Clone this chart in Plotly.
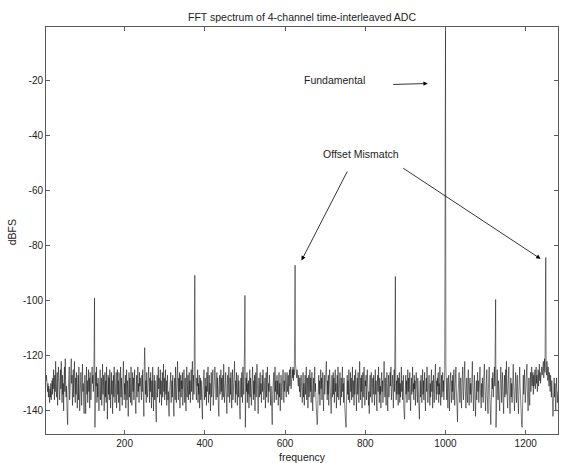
import numpy as np
import plotly.graph_objects as go

# Noise floor of the spectrum, one value per FFT bin (bin 1 .. 1280), in dBFS
noise_dbfs = [
    -124, -126, -125, -129, -127, -131, -128, -133, -130, -135, -131, -134, -137, -132, -135, -130, -136, -133, -129, -134,
    -128, -132, -125, -130, -136, -127, -133, -122, -129, -135, -131, -126, -138, -130, -124, -133, -128, -136, -131, -125,
    -132, -122, -129, -137, -127, -134, -130, -140, -128, -124, -133, -121, -129, -135, -131, -138, -142, -145, -134, -127,
    -131, -124, -136, -129, -133, -126, -121, -130, -127, -138, -132, -125, -135, -129, -122, -131, -137, -128, -134, -126,
    -130, -139, -133, -127, -136, -124, -131, -140, -129, -135, -126, -132, -138, -128, -123, -133, -130, -137, -141, -132,
    -127, -135, -141, -130, -124, -134, -129, -137, -131, -125, -133, -128, -139, -126, -131, -136, -129, -134, -124, -130,
    -127, -133, -129, -131, -130, -146, -134, -126, -131, -124, -137, -130, -135, -128, -133, -140, -127, -132, -125, -136,
    -131, -128, -138, -129, -123, -134, -131, -127, -140, -133, -126, -135, -129, -137, -124, -132, -143, -130, -127, -134,
    -128, -136, -125, -131, -139, -130, -126, -134, -129, -141, -132, -127, -135, -124, -130, -137, -128, -133, -126, -139,
    -131, -125, -134, -129, -137, -126, -132, -140, -130, -124, -135, -128, -133, -138, -127, -131, -122, -129, -136, -130,
    -134, -127, -139, -131, -125, -136, -129, -133, -142, -130, -126, -135, -128, -132, -137, -124, -131, -138, -129, -126,
    -133, -128, -136, -130, -125, -134, -139, -141, -132, -127, -135, -129, -124, -133, -130, -137, -126, -131, -128, -135,
    -129, -136, -127, -133, -125, -131, -138, -142, -130, -128, -123, -134, -129, -137, -126, -132, -135, -128, -131, -124,
    -130, -137, -128, -133, -126, -131, -139, -129, -135, -124, -132, -140, -130, -127, -136, -129, -134, -141, -144, -133,
    -127, -135, -130, -124, -132, -128, -137, -131, -125, -134, -129, -138, -132, -126, -135, -130, -123, -133, -128, -136,
    -130, -125, -134, -129, -138, -131, -127, -136, -133, -140, -142, -134, -128, -132, -126, -137, -131, -129, -135, -127,
    -133, -139, -142, -132, -128, -136, -124, -131, -137, -129, -134, -122, -130, -136, -128, -133, -126, -139, -131, -127,
    -135, -129, -132, -126, -138, -130, -134, -125, -131, -137, -128, -133, -140, -129, -124, -135, -131, -127, -136, -130,
    -126, -134, -129, -137, -131, -125, -133, -128, -122, -136, -130, -127, -134, -124, -130, -126, -133, -129, -136, -128,
    -131, -125, -137, -130, -134, -127, -139, -132, -128, -136, -129, -135, -141, -143, -133, -127, -131, -125, -136, -130,
    -128, -135, -131, -138, -126, -133, -129, -124, -137, -131, -127, -134, -130, -140, -132, -126, -135, -129, -133, -125,
    -138, -130, -134, -128, -124, -133, -129, -136, -131, -126, -135, -128, -132, -139, -142, -131, -127, -134, -130, -125,
    -133, -128, -136, -131, -127, -135, -123, -130, -137, -129, -134, -126, -132, -138, -141, -130, -127, -135, -129, -124,
    -132, -137, -128, -134, -126, -131, -139, -130, -125, -136, -129, -133, -127, -122, -131, -137, -129, -134, -126, -132,
    -138, -130, -127, -135, -129, -133, -140, -143, -132, -128, -135, -126, -131, -137, -124, -130, -134, -128, -125, -122,
    -146, -136, -128, -133, -126, -137, -130, -134, -129, -139, -131, -125, -135, -128, -132, -138, -127, -133, -124, -130,
    -136, -129, -134, -127, -140, -131, -126, -135, -130, -123, -133, -137, -141, -132, -128, -135, -129, -126, -134, -130,
    -137, -131, -127, -133, -125, -129, -136, -130, -134, -128, -139, -132, -126, -135, -129, -124, -131, -137, -130, -133,
    -127, -135, -130, -138, -131, -136, -141, -145, -134, -128, -132, -126, -137, -130, -124, -133, -129, -136, -131, -127,
    -134, -129, -138, -132, -126, -135, -130, -140, -133, -127, -131, -136, -128, -134, -125, -130, -137, -129, -133, -126,
    -132, -128, -135, -129, -126, -133, -130, -127, -134, -128, -125, -131, -129, -124, -132, -127, -130, -125, -128, -124,
    -129, -125, -127, -122, -124, -123, -126, -124, -128, -125, -129, -126, -131, -127, -130, -133, -128, -135, -131, -127,
    -134, -129, -137, -131, -126, -135, -130, -138, -132, -127, -134, -129, -124, -136, -131, -128, -139, -133, -127, -135,
    -130, -125, -133, -128, -137, -131, -126, -134, -140, -132, -128, -135, -129, -124, -133, -130, -136, -139, -142, -145,
    -144, -136, -130, -127, -134, -129, -138, -131, -125, -132, -128, -136, -130, -126, -135, -140, -131, -127, -134, -129,
    -133, -126, -122, -130, -136, -129, -134, -127, -138, -131, -125, -133, -129, -137, -141, -132, -127, -135, -130, -126,
    -134, -128, -137, -131, -125, -133, -130, -139, -132, -127, -135, -124, -130, -136, -129, -133, -126, -138, -131, -128,
    -135, -129, -124, -133, -130, -137, -128, -134, -139, -142, -144, -146, -138, -130, -127, -134, -129, -136, -125, -131,
    -137, -130, -126, -133, -128, -136, -131, -124, -135, -129, -132, -138, -127, -134, -130, -125, -133, -140, -131, -128,
    -134, -126, -130, -137, -129, -122, -131, -136, -128, -133, -127, -139, -132, -126, -135, -130, -124, -133, -138, -129,
    -131, -127, -136, -130, -125, -134, -129, -138, -133, -141, -131, -127, -135, -129, -126, -133, -137, -130, -128, -134,
    -127, -132, -138, -130, -125, -134, -129, -136, -140, -131, -127, -133, -124, -130, -137, -128, -134, -131, -139, -129,
    -126, -133, -129, -137, -131, -125, -122, -130, -135, -128, -134, -138, -130, -126, -133, -140, -131, -127, -135, -129,
    -133, -126, -131, -124, -136, -129, -134, -127, -132, -139, -130, -125, -133, -128, -123, -131, -136, -129, -134, -127,
    -132, -138, -128, -134, -126, -137, -130, -135, -129, -124, -133, -129, -136, -131, -127, -139, -142, -143, -136, -130,
    -127, -134, -129, -137, -131, -125, -133, -128, -136, -130, -126, -135, -140, -132, -128, -134, -129, -124, -133, -130,
    -136, -127, -132, -129, -138, -131, -126, -134, -130, -137, -128, -133, -139, -141, -143, -133, -129, -135, -127, -131,
    -137, -130, -125, -134, -129, -136, -131, -126, -135, -140, -132, -128, -133, -124, -131, -137, -129, -134, -127, -132,
    -138, -130, -135, -128, -125, -133, -129, -139, -131, -127, -134, -137, -130, -126, -123, -132, -136, -129, -134, -128,
    -131, -126, -137, -130, -134, -124, -132, -138, -129, -127, -135, -131, -126, -133, -129, -136, -128, -125, -122, -121,
    -124, -131, -136, -128, -134, -139, -130, -127, -135, -140, -131, -128, -126, -134, -137, -129, -133, -127, -136, -130,
    -125, -133, -138, -131, -127, -124, -132, -136, -141, -144, -135, -129, -133, -126, -131, -137, -130, -128, -135, -139,
    -131, -127, -124, -133, -136, -130, -126, -122, -131, -135, -139, -132, -128, -134, -137, -129, -125, -133, -138, -131,
    -128, -134, -130, -137, -129, -126, -122, -131, -135, -140, -132, -127, -133, -138, -142, -134, -129, -136, -130, -126,
    -133, -129, -137, -131, -127, -124, -132, -136, -139, -130, -135, -128, -133, -137, -129, -125, -123, -131, -136, -140,
    -133, -128, -125, -134, -137, -141, -132, -127, -124, -133, -138, -143, -145, -137, -130, -128, -132, -126, -135, -131,
    -128, -124, -131, -126, -124, -146, -138, -130, -125, -132, -136, -129, -134, -130, -140, -133, -127, -124, -131, -137,
    -130, -126, -133, -138, -141, -132, -127, -135, -130, -125, -134, -122, -129, -136, -139, -131, -127, -124, -133, -137,
    -141, -132, -128, -135, -130, -137, -133, -126, -123, -131, -136, -140, -134, -129, -126, -133, -137, -130, -127, -134,
    -138, -141, -133, -128, -124, -131, -136, -140, -143, -145, -146, -139, -131, -127, -134, -130, -125, -132, -137, -133,
    -129, -126, -123, -132, -136, -140, -133, -128, -135, -138, -130, -126, -133, -129, -124, -131, -128, -126, -134, -127,
    -131, -128, -125, -132, -129, -124, -130, -127, -133, -128, -125, -131, -127, -123, -129, -126, -130, -125, -128, -124,
    -127, -123, -126, -122, -128, -124, -121, -126, -123, -121, -124, -127, -122, -126, -129, -124, -128, -131, -126, -130,
    -133, -127, -131, -135, -129, -134, -138, -142, -137, -131, -128, -135, -130, -136, -140, -132, -128, -134, -137, -133,
]

# Discrete tones: fundamental and interleaving spurs (bin, peak level, level of the bin just below)
tone_bin = [125, 250, 375, 500, 625, 875, 1000, 1125, 1250]
tone_dbfs = [-99.0, -117.0, -90.7, -98.0, -87.0, -91.1, -0.4, -99.5, -84.2]
tone_skirt_dbfs = [-116.5, -124.0, -112.3, -116.3, -110.0, -112.3, -66.5, -117.0, -108.3]

x_ticks = [200, 400, 600, 800, 1000, 1200]
y_ticks = [-140, -120, -100, -80, -60, -40, -20]

freq = np.arange(1, len(noise_dbfs) + 1)
spectrum = np.array(noise_dbfs, dtype=float)
for b, peak, skirt in zip(tone_bin, tone_dbfs, tone_skirt_dbfs):
    spectrum[b - 1] = peak
    spectrum[b - 2] = skirt

FONT = "Liberation Sans, Arial, Helvetica, sans-serif"
INK = "#222222"
FRAME = "#5a5a5a"

fig = go.Figure(
    go.Scatter(
        x=freq,
        y=spectrum,
        mode="lines",
        line=dict(color="black", width=0.5),
        hoverinfo="x+y",
    )
)

axis_common = dict(
    showgrid=False,
    zeroline=False,
    showline=True,
    linecolor=FRAME,
    linewidth=1,
    mirror="ticks",
    ticks="inside",
    ticklen=4,
    tickwidth=1,
    tickcolor=FRAME,
    tickfont=dict(family=FONT, size=10, color=INK),
)

fig.update_xaxes(
    range=[4, 1280.5],
    tickvals=x_ticks,
    ticktext=[str(v) for v in x_ticks],
    **axis_common,
)
fig.update_yaxes(
    range=[-148.4, -0.4],
    tickvals=y_ticks,
    ticktext=[str(v) for v in y_ticks],
    **axis_common,
)

arrow = dict(
    xref="x", yref="y", axref="x", ayref="y",
    text="", showarrow=True,
    arrowhead=2, arrowsize=1.1, arrowwidth=0.8, arrowcolor="black",
    standoff=0, startstandoff=0,
)

fig.update_layout(
    width=561,
    height=463,
    margin=dict(l=46, r=3, t=27, b=29, pad=0),
    paper_bgcolor="white",
    plot_bgcolor="white",
    showlegend=False,
    title=dict(
        text="FFT spectrum of 4-channel time-interleaved ADC",
        x=0.5, xref="paper",
        y=1 - 17 / 463, yref="container", yanchor="middle",
        font=dict(family=FONT, size=10.5, color=INK),
    ),
    annotations=[
        dict(text="frequency", xref="paper", yref="paper", x=0.5, y=-0.0565,
             xanchor="center", yanchor="middle", showarrow=False,
             font=dict(family=FONT, size=10.5, color=INK)),
        dict(text="dBFS", xref="paper", yref="paper", x=-0.066, y=0.496,
             xanchor="center", yanchor="middle", textangle=-90, showarrow=False,
             font=dict(family=FONT, size=10.5, color=INK)),
        dict(text="Fundamental", xref="x", yref="y", x=724, y=-19.7,
             xanchor="center", yanchor="middle", showarrow=False,
             font=dict(family=FONT, size=10.5, color=INK)),
        dict(text="Offset Mismatch", xref="x", yref="y", x=790, y=-46.5,
             xanchor="center", yanchor="middle", showarrow=False,
             font=dict(family=FONT, size=10.5, color=INK)),
        dict(x=956, y=-20.95, ax=866, ay=-21.3, **arrow),
        dict(x=641, y=-85.3, ax=757, ay=-52.4, **arrow),
        dict(x=1237, y=-84.7, ax=891, ay=-51.4, **arrow),
    ],
)

fig.write_html("out.html")
